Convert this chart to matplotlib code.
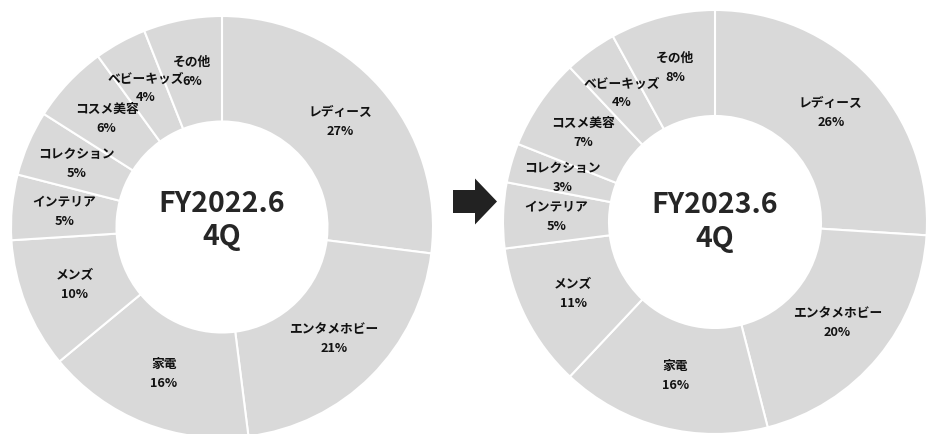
import matplotlib
matplotlib.use("Agg")
import numpy as np
import matplotlib.pyplot as plt
from matplotlib.patches import FancyArrow

plt.rcParams['font.family'] = ['Noto Sans CJK JP', 'DejaVu Sans']

# data (clockwise from 12 o'clock)
categories = ['レディース', 'エンタメホビー', '家電', 'メンズ', 'インテリア',
              'コレクション', 'コスメ美容', 'ベビーキッズ', 'その他']
share_2022 = [27, 21, 16, 10, 5, 5, 6, 4, 6]
share_2023 = [26, 20, 16, 11, 5, 3, 7, 4, 8]
titles = ['FY2022.6\n4Q', 'FY2023.6\n4Q']

W, H = 929, 434
fig = plt.figure(figsize=(W / 100, H / 100), dpi=100)


def donut(cx, cy, r, values, title, title_y=0.0):
    # cx, cy, r in pixels (y from top)
    ax = fig.add_axes([(cx - r) / W, (H - cy - r) / H, 2 * r / W, 2 * r / H])
    wedges, _ = ax.pie(values, startangle=90, counterclock=False, radius=1,
                       colors=['#d9d9d9'] * len(values),
                       wedgeprops=dict(width=0.5, edgecolor='white', linewidth=1.5))
    for w, name, v in zip(wedges, categories, values):
        ang = np.deg2rad((w.theta1 + w.theta2) / 2)
        rr = 0.75
        ax.text(rr * np.cos(ang), rr * np.sin(ang), '%s\n%d%%' % (name, v),
                ha='center', va='center', fontsize=9.2, fontweight='bold',
                color='#111111', linespacing=1.6)
    ax.text(0, title_y, title, ha='center', va='center', fontsize=20.5,
            fontweight='bold', color='#262626', linespacing=1.25)
    ax.set_xlim(-1, 1)
    ax.set_ylim(-1, 1)
    ax.set_aspect('auto')
    ax.axis('off')


donut(222, 227, 211, share_2022, titles[0], 0.03)
donut(715, 222, 212, share_2023, titles[1])

# arrow between the two charts
ax_a = fig.add_axes([0, 0, 1, 1])
ax_a.set_xlim(0, W)
ax_a.set_ylim(H, 0)
ax_a.patch.set_alpha(0)
ax_a.axis('off')
ax_a.add_patch(FancyArrow(453, 201.5, 44, 0, width=23, head_width=46,
                          head_length=22, length_includes_head=True,
                          color='#222222', linewidth=0))

fig.savefig('out.png', dpi=100, facecolor='white')
